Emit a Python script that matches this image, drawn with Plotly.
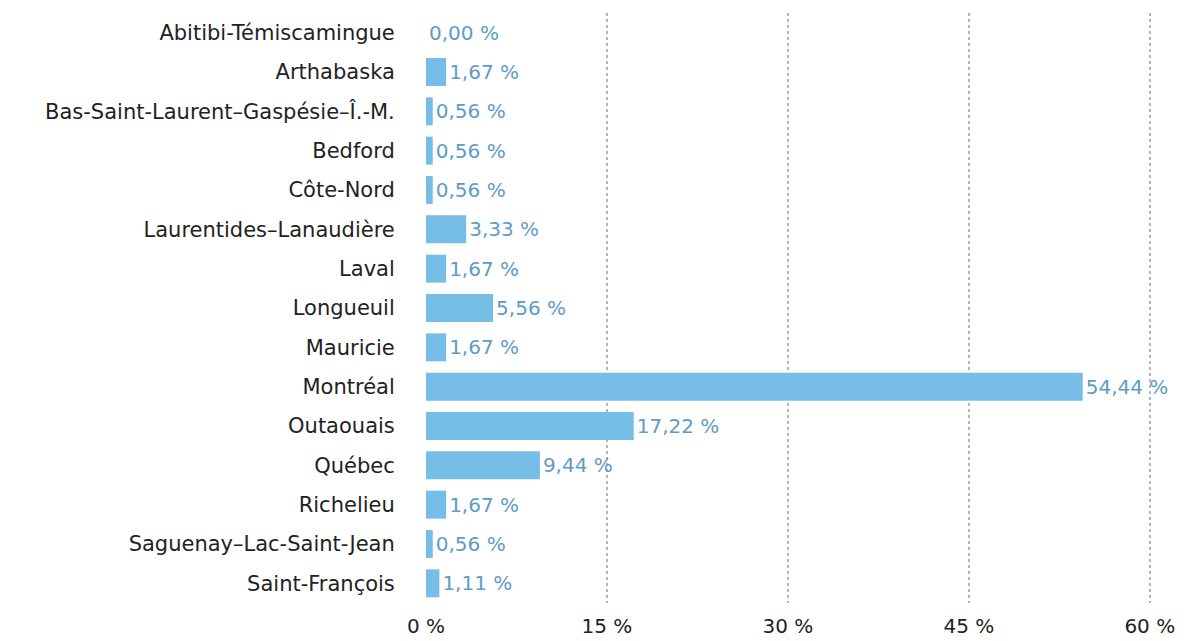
import plotly.graph_objects as go

regions = [
    "Abitibi-Témiscamingue", "Arthabaska", "Bas-Saint-Laurent–Gaspésie–Î.-M.",
    "Bedford", "Côte-Nord", "Laurentides–Lanaudière", "Laval", "Longueuil",
    "Mauricie", "Montréal", "Outaouais", "Québec", "Richelieu",
    "Saguenay–Lac-Saint-Jean", "Saint-François",
]
shares = [0.00, 1.67, 0.56, 0.56, 0.56, 3.33, 1.67, 5.56, 1.67, 54.44,
          17.22, 9.44, 1.67, 0.56, 1.11]
tick_values = [0, 15, 30, 45, 60]
tick_labels = ["0 %", "15 %", "30 %", "45 %", "60 %"]

value_text = [f"{v:.2f} %".replace(".", ",") for v in shares]

FONT = "DejaVu Sans"

fig = go.Figure(go.Bar(
    x=shares, y=regions, orientation="h",
    marker=dict(color="#76bde8", line=dict(width=0)),
    text=value_text, textposition="outside", cliponaxis=False,
    textfont=dict(color="#5e9cc6", size=20, family=FONT),
))

fig.update_layout(
    width=1194, height=641,
    margin=dict(l=426, r=43, t=13, b=38),
    paper_bgcolor="white", plot_bgcolor="white",
    bargap=0.29, showlegend=False,
    font=dict(family=FONT, color="#222222", size=20),
    xaxis=dict(
        range=[0, 60.1], tickvals=tick_values, ticktext=tick_labels,
        showgrid=True, gridcolor="#b5b5b5", griddash="dot", gridwidth=2,
        zeroline=False, showline=False, automargin=False,
        ticks="outside", ticklen=5, tickcolor="rgba(0,0,0,0)",
        tickfont=dict(size=20, color="#222222", family=FONT),
    ),
    yaxis=dict(
        autorange="reversed", showgrid=False, zeroline=False, showline=False,
        automargin=False,
        ticks="outside", ticklen=26, tickcolor="rgba(0,0,0,0)",
        tickfont=dict(size=21, color="#222222", family=FONT),
    ),
)

fig.write_html("out.html")
